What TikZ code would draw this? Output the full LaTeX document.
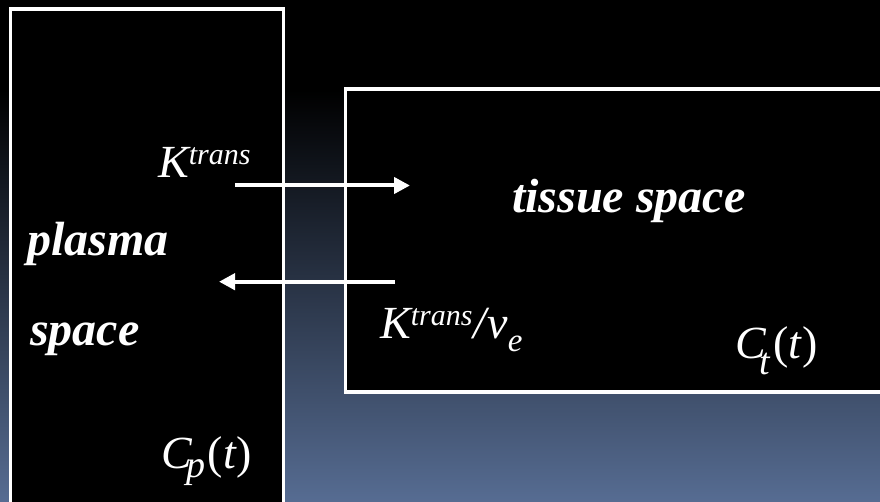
\documentclass[tikz,border=0pt]{standalone}
\usepackage{fontspec}
\setmainfont{Liberation Serif}
\usetikzlibrary{arrows.meta}
\definecolor{bgblue}{RGB}{86,108,146}
\tikzset{
  region/.style={draw=white, line width=3.5pt, fill=black},
  flux/.style={draw=white, line width=4pt, -{Triangle[length=16pt,width=16pt]}},
  roomtext/.style={text=white, inner sep=0pt, anchor=base west,
    font=\fontsize{48}{48}\selectfont\bfseries\itshape},
  symtext/.style={text=white, inner sep=0pt, anchor=base west,
    font=\fontsize{46}{46}\selectfont\itshape},
}
\newcommand{\supsm}[1]{\raisebox{13pt}{\fontsize{30}{30}\selectfont #1}}
\newcommand{\subsm}[2]{\raisebox{#1}{\fontsize{38}{38}\selectfont #2}}
\begin{document}
\begin{tikzpicture}[x=1pt,y=1pt]
  \useasboundingbox (0,0) rectangle (880,501);
  \clip (0,0) rectangle (880,501);
  % background: black at the top fading to slate blue
  \fill[black] (0,410) rectangle (880,501);
  \shade[top color=black, bottom color=bgblue] (0,0) rectangle (880,411);

  % compartments
  \draw[region] (10.5,492) rectangle (283.5,-20);
  \draw[region] (345.5,412) rectangle (900,109);

  % exchange arrows
  \coordinate (inA) at (235,315.5);
  \coordinate (inB) at (410,315.5);
  \coordinate (outA) at (395,219.3);
  \coordinate (outB) at (219,219.3);
  \draw[flux] (inA) -- (inB);
  \draw[flux] (outA) -- (outB);

  % compartment names
  \node[roomtext] (plasma) at (27,245) {plasma};
  \node[roomtext] (space) at (30,156) {space};
  \node[roomtext] (tissue) at (512,288) {tissue space};

  % rate constants and concentrations
  \node[symtext] (kin) at (158,323) {K\supsm{trans}};
  \node[symtext] (kout) at (380,163) {K\supsm{trans}\kern1pt/\kern1pt v\raisebox{-13pt}{\fontsize{33}{33}\selectfont e}};
  \node[symtext] (ct) at (735,143) {C\kern-6pt\subsm{-16pt}{t}\kern3pt\textup{(}t\textup{)}};
  \node[symtext] (cp) at (161,33) {C\kern-5pt\subsm{-9pt}{p}\kern2pt\textup{(}t\textup{)}};
\end{tikzpicture}
\end{document}
